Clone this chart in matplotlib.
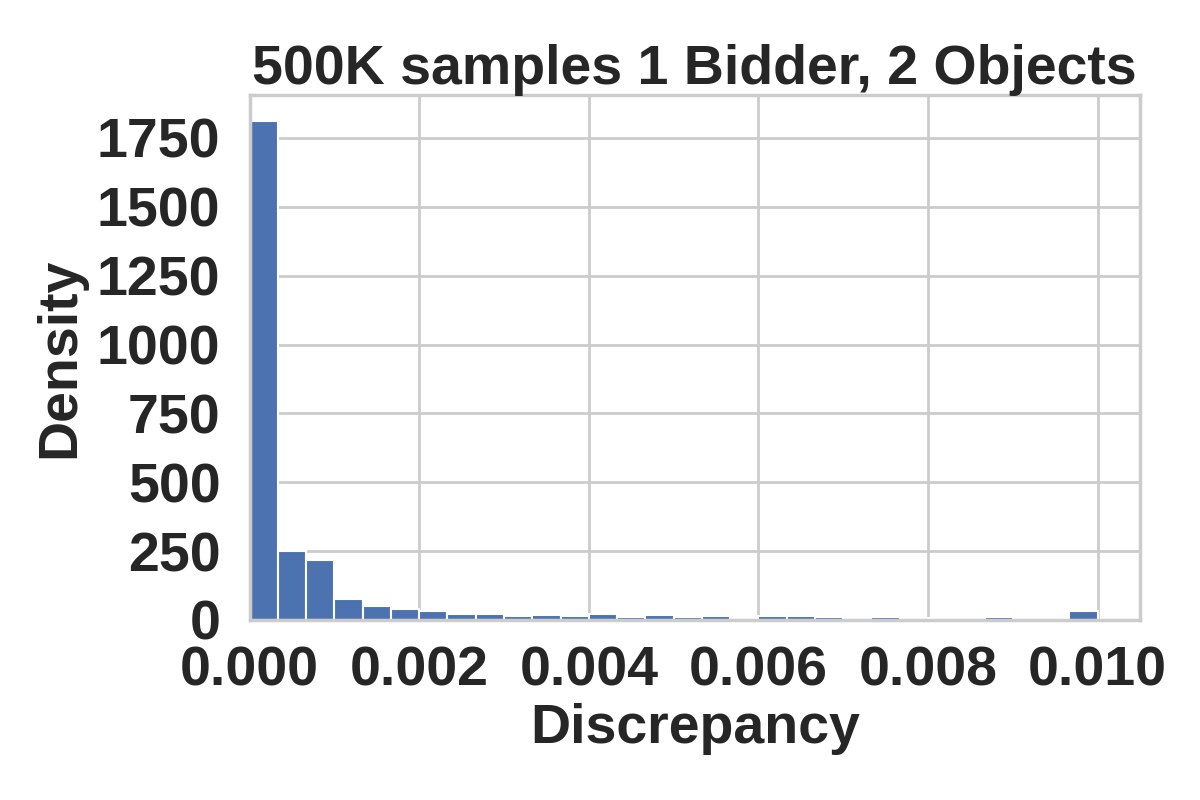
import numpy as np
import matplotlib
matplotlib.use("Agg")
import matplotlib.pyplot as plt
import seaborn as sns

sns.set_theme(style="whitegrid")
plt.rcParams['font.family'] = ['Liberation Sans', 'DejaVu Sans']

bin_lo = 0.0
bin_hi = 0.01
n_bins = 30
density = [1812, 251, 219, 76, 51, 41, 32, 22, 22, 14,
           18, 14, 22, 11, 18, 11, 14, 7, 14, 14,
           11, 7, 11, 7, 7, 7, 11, 7, 7, 33]
xticks = [0.000, 0.002, 0.004, 0.006, 0.008, 0.010]
yticks = [0, 250, 500, 750, 1000, 1250, 1500, 1750]

edges = np.linspace(bin_lo, bin_hi, n_bins + 1)
fig = plt.figure(figsize=(6, 4), dpi=200)
ax = fig.add_axes([0.208, 0.225, 0.742, 0.656])
ax.bar(edges[:-1], density, width=np.diff(edges), align='edge',
       color='#4C72B0', edgecolor='white', linewidth=0.75, zorder=2)
ax.set_xlim(0, 0.0105)
ax.set_ylim(0, 1905)
ax.set_xticks(xticks)
ax.set_xticklabels([f"{t:.3f}" for t in xticks])
ax.set_yticks(yticks)
for lab in ax.get_xticklabels() + ax.get_yticklabels():
    lab.set_fontsize(20)
    lab.set_fontweight('bold')
ax.set_xlabel("Discrepancy", fontsize=20, fontweight='bold', labelpad=2)
ax.set_ylabel("Density", fontsize=20, fontweight='bold', labelpad=4)
ax.set_title("500K samples 1 Bidder, 2 Objects", fontsize=20, fontweight='bold', pad=4)
ax.tick_params(axis='y', pad=4.5)
ax.tick_params(axis='x', pad=3)
fig.savefig("out.png", dpi=200)
